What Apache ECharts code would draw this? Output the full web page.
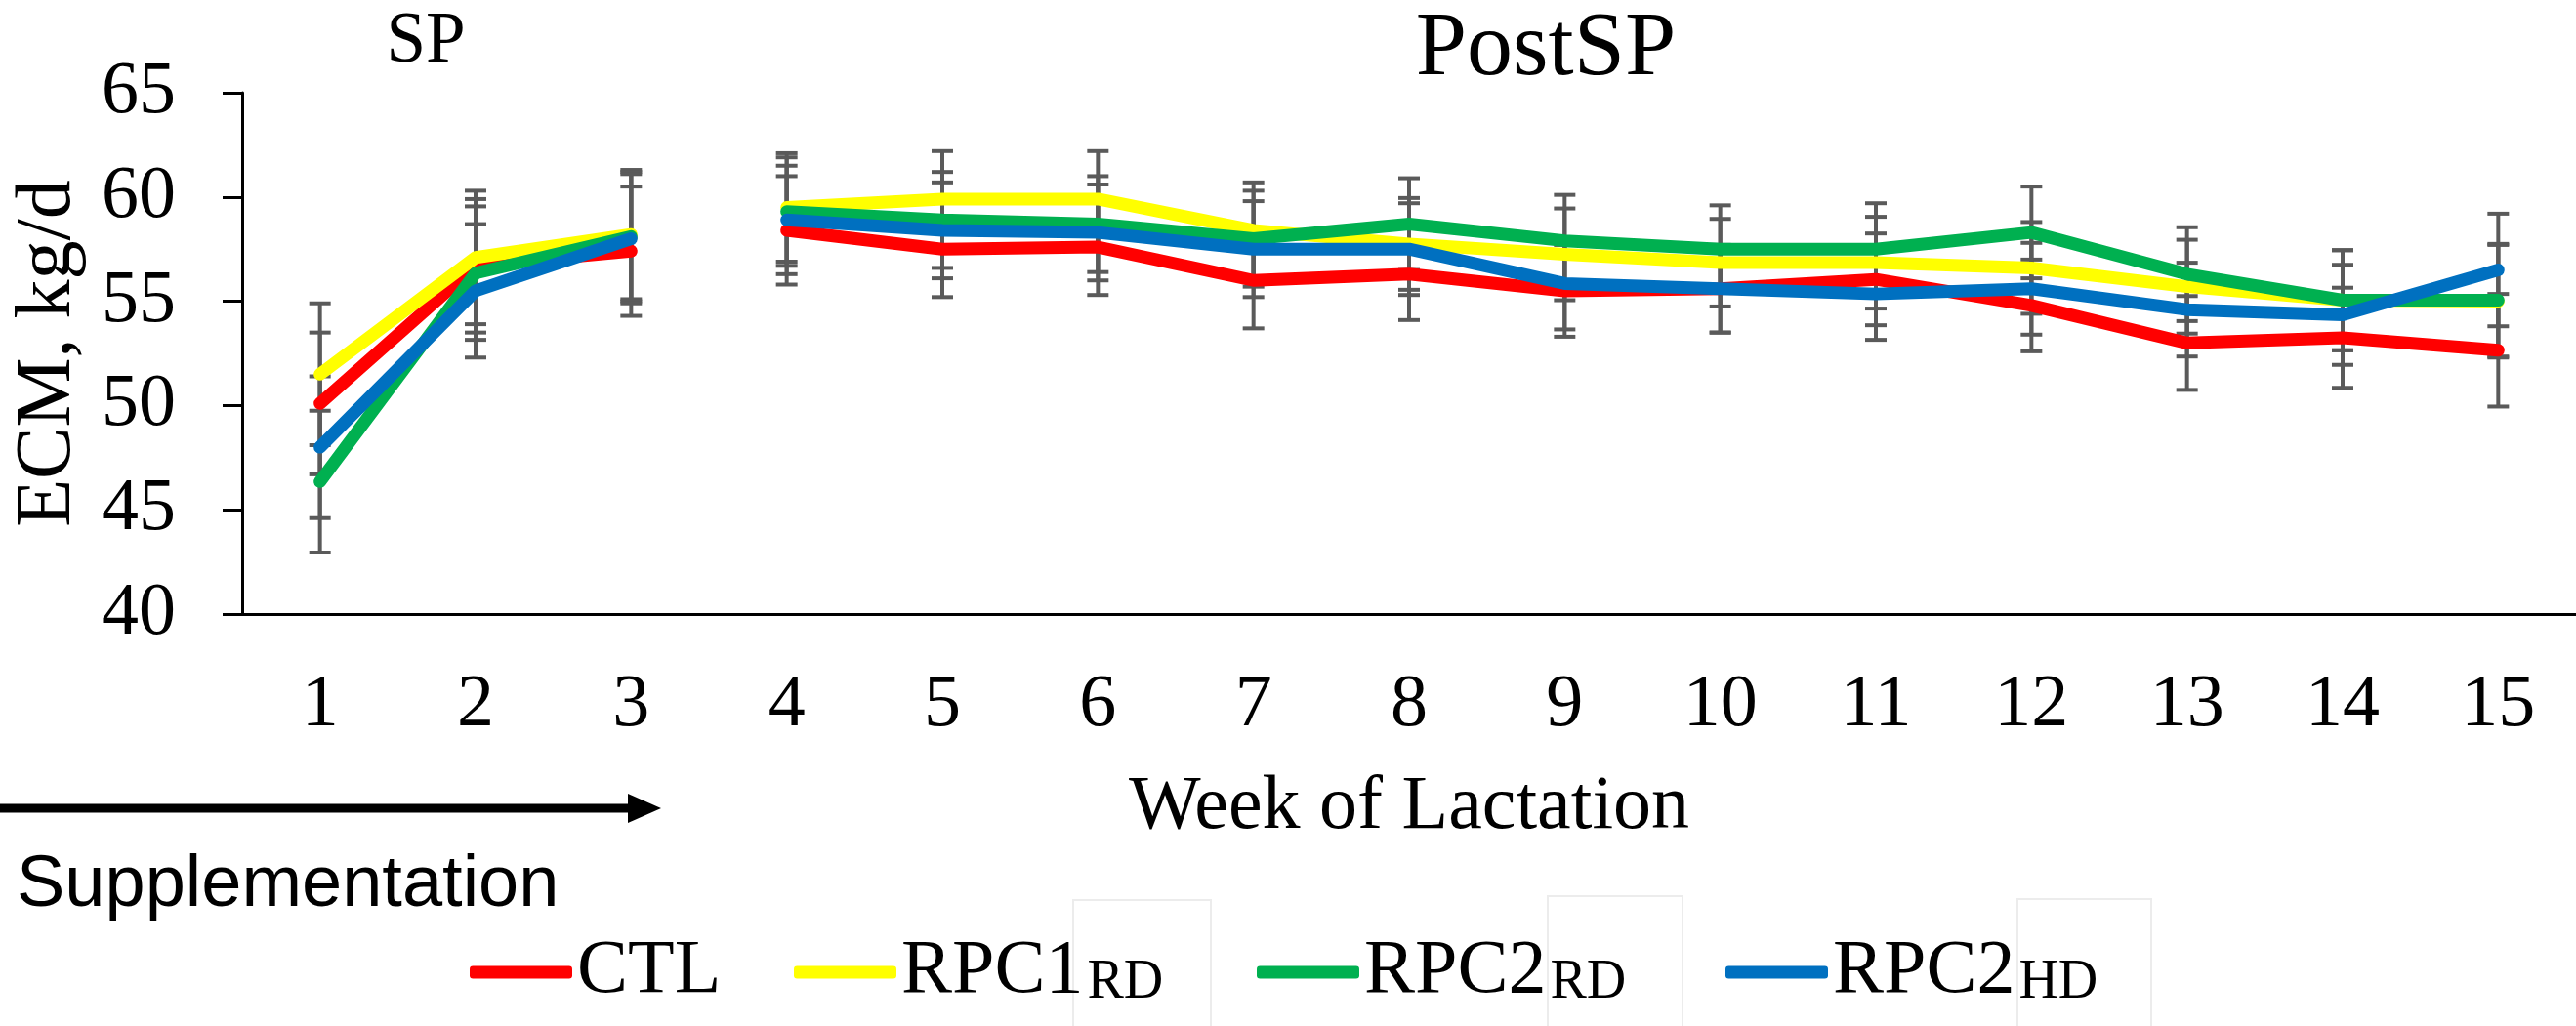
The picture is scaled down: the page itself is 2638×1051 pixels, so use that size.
<!DOCTYPE html>
<html>
<head>
<meta charset="utf-8">
<title>ECM by week of lactation</title>
<script src="https://cdn.jsdelivr.net/npm/echarts@6/dist/echarts.min.js"></script>
<style>
  html, body {margin: 0; padding: 0; background: #fff;}
  #chart {width: 2638px; height: 1051px;}
</style>
</head>
<body>
<div id="chart"></div>
<script>
  // weeks of lactation (x categories)
  var weeks = ['1', '2', '3', '4', '5', '6', '7', '8', '9', '10', '11', '12', '13', '14', '15'];
  // last week of supplementation (SP) - lines break after it
  var spWeeks = 3;

  // ECM, kg/d
  var ctl    = [50.1, 56.7, 57.4, 58.4, 57.5, 57.6, 56.0, 56.3, 55.5, 55.6, 56.05, 54.8, 53.0, 53.25, 52.65];
  var rpc1Rd = [51.5, 57.1, 58.2, 59.5, 59.9, 59.9, 58.4, 57.75, 57.25, 56.85, 56.85, 56.6, 55.7, 55.05, 55.0];
  var rpc2Rd = [46.35, 56.35, 58.1, 59.3, 58.9, 58.7, 58.0, 58.7, 57.9, 57.5, 57.5, 58.3, 56.3, 55.05, 55.05];
  var rpc2Hd = [48.0, 55.5, 58.0, 58.9, 58.4, 58.3, 57.5, 57.5, 55.85, 55.6, 55.35, 55.6, 54.6, 54.35, 56.5];
  // pooled SEM per week (error bars)
  var sem = [3.4, 3.2, 3.1, 2.6, 2.3, 2.3, 2.3, 2.2, 2.2, 2.1, 2.2, 2.2, 2.25, 2.4, 2.7];

  var yTicks = [40, 45, 50, 55, 60, 65];

  var groups = [
    {name: 'CTL', data: ctl, color: '#ff0000'},
    {name: 'RPC1RD', data: rpc1Rd, color: '#ffff00'},
    {name: 'RPC2RD', data: rpc2Rd, color: '#00b050'},
    {name: 'RPC2HD', data: rpc2Hd, color: '#0070c0'}
  ];
  var legendLabels = {
    'CTL': '{m|CTL}',
    'RPC1RD': '{m|RPC1}{s|RD}',
    'RPC2RD': '{m|RPC2}{s|RD}',
    'RPC2HD': '{m|RPC2}{s|HD}'
  };
  var legendLeft = [476, 808, 1282, 1762];

  var serif = 'Liberation Serif';

  var myChart = echarts.init(document.getElementById('chart'));

  function errorBars(params, api) {
    var idx = api.value(0);
    var top = api.coord([idx, api.value(2)]);
    var bot = api.coord([idx, api.value(1)]);
    var cap = 11;
    var st = {stroke: '#5a5a5a', lineWidth: 4};
    return {
      type: 'group',
      children: [
        {type: 'line', shape: {x1: top[0], y1: top[1], x2: bot[0], y2: bot[1]}, style: st},
        {type: 'line', shape: {x1: top[0] - cap, y1: top[1], x2: top[0] + cap, y2: top[1]}, style: st},
        {type: 'line', shape: {x1: bot[0] - cap, y1: bot[1], x2: bot[0] + cap, y2: bot[1]}, style: st}
      ]
    };
  }

  var series = [];
  // error bars first so the lines sit on top
  groups.forEach(function (g) {
    series.push({
      name: g.name + ' SE',
      type: 'custom',
      renderItem: errorBars,
      encode: {x: 0, y: [1, 2]},
      z: 1,
      silent: true,
      data: g.data.map(function (v, i) {
        return [i, v - sem[i], v + sem[i]];
      })
    });
  });
  groups.forEach(function (g) {
    // SP segment (weeks 1-3) and PostSP segment (weeks 4-15)
    var sp = g.data.map(function (v, i) { return i < spWeeks ? v : '-'; });
    var post = g.data.map(function (v, i) { return i >= spWeeks ? v : '-'; });
    [sp, post].forEach(function (d) {
      series.push({
        name: g.name,
        type: 'line',
        data: d,
        color: g.color,
        showSymbol: false,
        symbol: 'none',
        z: 3,
        lineStyle: {width: 13, color: g.color, cap: 'round', join: 'round'}
      });
    });
  });

  var legends = groups.map(function (g, i) {
    return {
      data: [g.name],
      left: legendLeft[i],
      top: 952,
      icon: 'roundRect',
      itemWidth: 105,
      itemHeight: 13,
      itemGap: 0,
      selectedMode: false,
      formatter: function (name) { return legendLabels[name]; },
      textStyle: {
        color: '#000',
        rich: {
          m: {fontFamily: serif, fontSize: 78, lineHeight: 78, verticalAlign: 'bottom', color: '#000'},
          s: {fontFamily: serif, fontSize: 56, lineHeight: 50, verticalAlign: 'bottom', color: '#000', padding: [0, 0, 0, 4]}
        }
      }
    };
  });

  var option = {
    backgroundColor: '#fff',
    animation: false,
    grid: {left: 248, right: 0, top: 95, bottom: 422, containLabel: false},
    legend: legends,
    xAxis: {
      type: 'category',
      data: weeks,
      boundaryGap: true,
      name: 'Week of Lactation',
      nameLocation: 'middle',
      nameGap: 160,
      nameTextStyle: {fontFamily: serif, fontSize: 78, color: '#000'},
      axisLine: {lineStyle: {color: '#000', width: 3}},
      axisTick: {show: false},
      axisLabel: {fontFamily: serif, fontSize: 76, color: '#000', margin: 56}
    },
    yAxis: {
      type: 'value',
      min: yTicks[0],
      max: yTicks[yTicks.length - 1],
      interval: 5,
      name: 'ECM, kg/d',
      nameLocation: 'middle',
      nameRotate: 90,
      nameGap: 158,
      nameTextStyle: {fontFamily: serif, fontSize: 80, color: '#000'},
      axisLine: {show: true, lineStyle: {color: '#000', width: 3}},
      axisTick: {show: true, inside: false, length: 20, lineStyle: {color: '#000', width: 3}},
      axisLabel: {fontFamily: serif, fontSize: 76, color: '#000', margin: 68},
      splitLine: {show: false}
    },
    graphic: [
      {type: 'text', style: {x: 436, y: 44, text: 'SP', fontFamily: serif, fontSize: 73, fill: '#000', textAlign: 'center', textVerticalAlign: 'middle'}},
      {type: 'text', style: {x: 1583, y: 51, text: 'PostSP', fontFamily: serif, fontSize: 94, fill: '#000', textAlign: 'center', textVerticalAlign: 'middle'}},
      // supplementation arrow
      {type: 'line', shape: {x1: 0, y1: 828, x2: 648, y2: 828}, style: {stroke: '#000', lineWidth: 9}},
      {type: 'polygon', shape: {points: [[643, 813], [677, 828], [643, 843]]}, style: {fill: '#000'}},
      {type: 'text', style: {x: 17, y: 908, text: 'Supplementation', fontFamily: 'Liberation Sans', fontSize: 74, fill: '#000', textVerticalAlign: 'middle'}},
      // faint boxes left around the subscripts in the original figure
      {type: 'rect', shape: {x: 1099, y: 922, width: 141, height: 140}, style: {fill: 'none', stroke: '#ececec', lineWidth: 2}},
      {type: 'rect', shape: {x: 1585, y: 918, width: 138, height: 140}, style: {fill: 'none', stroke: '#ececec', lineWidth: 2}},
      {type: 'rect', shape: {x: 2066, y: 921, width: 137, height: 140}, style: {fill: 'none', stroke: '#ececec', lineWidth: 2}}
    ],
    series: series
  };
  myChart.setOption(option);
</script>
</body>
</html>
